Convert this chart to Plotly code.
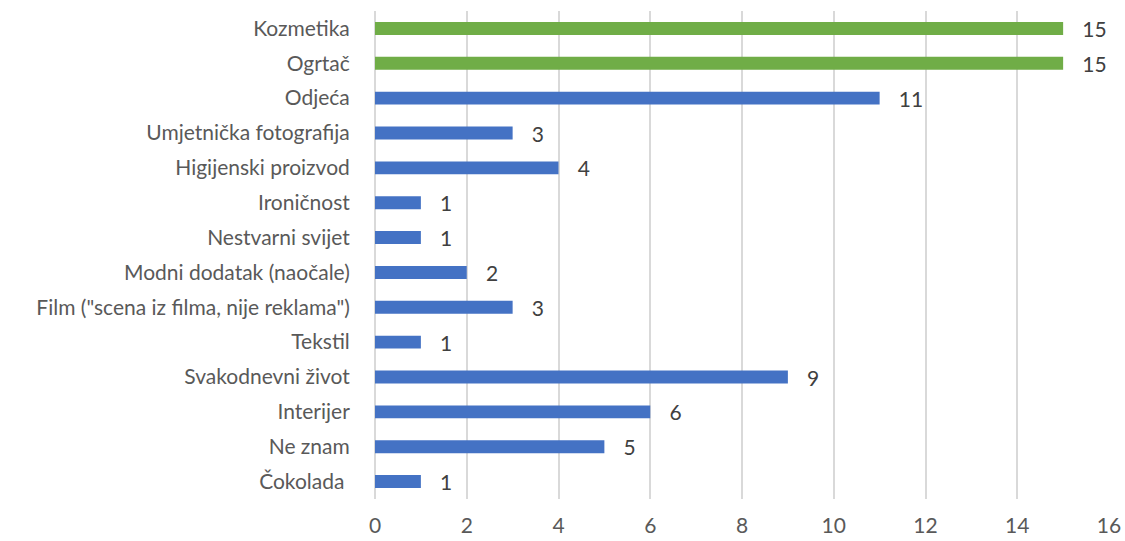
import plotly.graph_objects as go

categories = ["Kozmetika", "Ogrtač", "Odjeća", "Umjetnička fotografija", "Higijenski proizvod",
              "Ironičnost", "Nestvarni svijet", "Modni dodatak (naočale)",
              "Film (\"scena iz filma, nije reklama\")", "Tekstil", "Svakodnevni život",
              "Interijer", "Ne znam", "Čokolada\u00a0"]
values = [15, 15, 11, 3, 4, 1, 1, 2, 3, 1, 9, 6, 5, 1]
highlight = ["green", "green"] + ["blue"] * 12
color_map = {"green": "#70AD47", "blue": "#4472C4"}
x_ticks = [0, 2, 4, 6, 8, 10, 12, 14, 16]

colors = [color_map[h] for h in highlight]
font = "Lato, 'Open Sans', sans-serif"

fig = go.Figure(go.Bar(
    y=categories, x=values, orientation="h",
    marker=dict(color=colors, line=dict(width=0)),
    width=0.37,
    text=["\u00a0\u00a0\u00a0" + str(v) for v in values],
    textposition="outside",
    constraintext="none",
    textfont=dict(family=font, size=21, color="#404040"),
    cliponaxis=False,
))

fig.update_layout(
    width=1125, height=541,
    margin=dict(l=375, r=16, t=11, b=42, autoexpand=False),
    paper_bgcolor="white", plot_bgcolor="white",
    showlegend=False,
    font=dict(family=font, size=21, color="#595959"),
)
fig.update_xaxes(range=[0, 16], tickvals=x_ticks, showgrid=True, gridcolor="#D9D9D9",
                 gridwidth=1.5, zeroline=True, zerolinecolor="#D9D9D9", zerolinewidth=1.5,
                 showline=False, tickfont=dict(size=21, color="#595959"),
                 ticks="outside", ticklen=8, tickcolor="rgba(0,0,0,0)", automargin=False)
fig.update_yaxes(autorange="reversed", categoryorder="array", categoryarray=categories,
                 showgrid=False, showline=False, ticks="outside", ticklen=20,
                 tickcolor="rgba(0,0,0,0)", automargin=False,
                 tickfont=dict(size=21, color="#595959"))

fig.write_html("out.html", config={"displayModeBar": False},
               post_script="document.body.style.margin='0';document.body.style.overflow='hidden';")
